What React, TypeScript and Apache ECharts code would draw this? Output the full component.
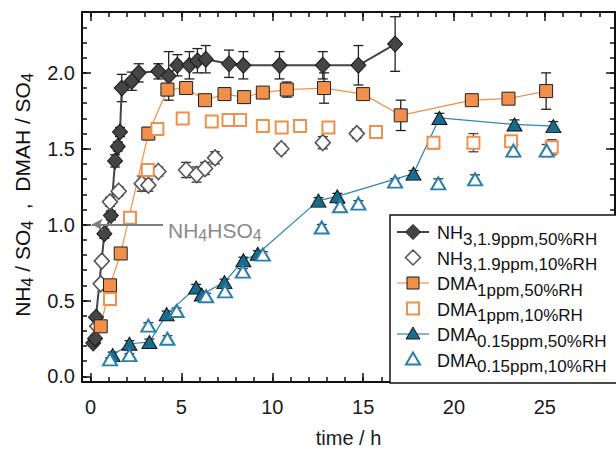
import React, { useEffect, useRef } from "react";
import * as echarts from "echarts";

const FONT = '"Liberation Sans", Arial, Helvetica, sans-serif';

// ---- data (time / h, ratio, error) ----
const nh3_50_x = [0.15, 0.25, 0.3, 0.76, 1.12, 1.35, 1.5, 1.62, 1.72, 2.27, 2.65, 3.73, 4.3, 4.78, 5.44, 5.88, 6.34, 7.62, 8.41, 10.4, 12.78, 14.74, 16.76];
const nh3_50_y = [0.22, 0.25, 0.39, 0.94, 1.06, 1.42, 1.515, 1.61, 1.9, 1.945, 2.0, 2.01, 1.98, 2.05, 2.05, 2.08, 2.09, 2.06, 2.05, 2.05, 2.05, 2.05, 2.19];
const nh3_50_e = [0.02, 0.02, 0.02, 0.03, 0.03, 0.04, 0.03, 0.03, 0.09, 0.06, 0.06, 0.05, 0.16, 0.07, 0.09, 0.08, 0.09, 0.09, 0.09, 0.09, 0.09, 0.13, 0.18];

const nh3_10_x = [0.37, 0.56, 0.62, 1.07, 1.55, 2.82, 3.18, 3.73, 5.26, 5.84, 6.3, 6.85, 10.5, 12.78, 14.65];
const nh3_10_y = [0.33, 0.61, 0.76, 1.15, 1.22, 1.27, 1.26, 1.35, 1.36, 1.33, 1.37, 1.44, 1.5, 1.54, 1.6];
const nh3_10_e = [0.02, 0.02, 0.02, 0.03, 0.03, 0.05, 0.04, 0.03, 0.05, 0.05, 0.04, 0.04, 0.03, 0.04, 0.03];

const dma1_50_x = [0.56, 1.07, 1.66, 3.18, 4.23, 5.26, 6.3, 7.37, 8.45, 9.48, 10.8, 12.85, 15.0, 17.07, 20.98, 23.0, 25.07];
const dma1_50_y = [0.33, 0.6, 0.81, 1.6, 1.89, 1.9, 1.82, 1.86, 1.84, 1.87, 1.89, 1.9, 1.86, 1.72, 1.82, 1.83, 1.88];
const dma1_50_e = [0.02, 0.02, 0.02, 0.04, 0.04, 0.04, 0.03, 0.04, 0.04, 0.03, 0.05, 0.1, 0.03, 0.1, 0.03, 0.03, 0.12];

const dma1_10_x = [1.07, 2.17, 3.15, 3.68, 5.07, 6.67, 7.59, 8.23, 9.48, 10.52, 11.53, 13.09, 15.71, 18.87, 21.07, 23.14, 25.38];
const dma1_10_y = [0.51, 1.045, 1.36, 1.63, 1.7, 1.68, 1.69, 1.69, 1.65, 1.64, 1.65, 1.64, 1.61, 1.54, 1.54, 1.55, 1.51];
const dma1_10_e = [0.02, 0.02, 0.03, 0.03, 0.03, 0.03, 0.03, 0.03, 0.03, 0.03, 0.03, 0.03, 0.03, 0.04, 0.06, 0.03, 0.05];

const dma015_50_x = [1.22, 2.14, 3.24, 4.19, 5.81, 6.12, 7.37, 8.41, 9.2, 12.54, 13.58, 17.77, 19.2, 23.33, 25.47];
const dma015_50_y = [0.14, 0.215, 0.226, 0.41, 0.586, 0.539, 0.621, 0.765, 0.808, 1.158, 1.186, 1.336, 1.703, 1.66, 1.649];
const dma015_50_e = [0.02, 0.02, 0.02, 0.02, 0.02, 0.02, 0.02, 0.02, 0.02, 0.02, 0.02, 0.02, 0.03, 0.03, 0.03];

const dma015_10_x = [1.07, 2.14, 3.18, 4.23, 4.74, 6.36, 7.4, 8.38, 9.48, 12.72, 13.73, 14.74, 16.76, 19.14, 21.16, 23.27, 25.1];
const dma015_10_y = [0.112, 0.14, 0.334, 0.248, 0.431, 0.528, 0.56, 0.69, 0.802, 0.981, 1.121, 1.138, 1.283, 1.272, 1.298, 1.488, 1.488];
const dma015_10_e = [0.01, 0.01, 0.02, 0.02, 0.02, 0.02, 0.02, 0.02, 0.02, 0.02, 0.02, 0.02, 0.02, 0.03, 0.03, 0.04, 0.04];

// reference line: NH4HSO4 (ratio = 1)
const arrowFrom = [3.99, 1.0];
const arrowTo = [0.07, 1.0];

// ticks
const xMajor = [0, 5, 10, 15, 20, 25];
const yMajor = [0, 0.5, 1, 1.5, 2];
const xMin = -0.47, xMax = 28.86;
const yMin = -0.037, yMax = 2.401;

const xMinor: number[] = [];
for (let i = 0; i <= 28; i++) xMinor.push(i);
const yMinor: number[] = [];
for (let i = 0; i <= 24; i++) yMinor.push(i / 10);

const pairs = (xs: number[], ys: number[]) => xs.map((x, i) => [x, ys[i]]);

function errSeries(xs: number[], ys: number[], es: number[], color: string) {
  return {
    type: "custom",
    xAxisIndex: 0,
    yAxisIndex: 0,
    silent: true,
    clip: false,
    z: 2,
    data: xs.map((x, i) => [x, ys[i], es[i]]),
    encode: { x: 0, y: 1 },
    renderItem: (_p: any, api: any) => {
      const x = api.value(0), y = api.value(1), e = api.value(2);
      const a = api.coord([x, y + e]);
      const b = api.coord([x, y - e]);
      const w = 5;
      const st = { stroke: color, lineWidth: 1.3 };
      return {
        type: "group",
        children: [
          { type: "line", shape: { x1: a[0], y1: a[1], x2: b[0], y2: b[1] }, style: st },
          { type: "line", shape: { x1: a[0] - w, y1: a[1], x2: a[0] + w, y2: a[1] }, style: st },
          { type: "line", shape: { x1: b[0] - w, y1: b[1], x2: b[0] + w, y2: b[1] }, style: st },
        ],
      };
    },
  };
}

const C_DARK = "#454545";
const C_OR = "#F0904A";
const C_BL = "#1A6C8E";
const C_BL_LINE = "#2E87AE";
const C_BL_OPEN = "#2B7EA7";

function axisX(position: string, ticks: number[], len: number, withLabel: boolean, withLine: boolean, extra: any = {}) {
  return {
    type: "value",
    position,
    min: xMin,
    max: xMax,
    splitLine: { show: false },
    axisLine: { show: withLine, onZero: false, lineStyle: { color: "#111", width: 2 } },
    axisTick: { show: true, inside: true, length: len, customValues: ticks, lineStyle: { color: "#111", width: 1.5 } },
    axisLabel: withLabel
      ? { show: true, customValues: xMajor, fontSize: 20, color: "#1a1a1a", fontFamily: FONT, margin: 15 }
      : { show: false },
    ...extra,
  };
}
function axisY(position: string, ticks: number[], len: number, withLabel: boolean, withLine: boolean) {
  return {
    type: "value",
    position,
    min: yMin,
    max: yMax,
    splitLine: { show: false },
    axisLine: { show: withLine, onZero: false, lineStyle: { color: "#111", width: 2 } },
    axisTick: { show: true, inside: true, length: len, customValues: ticks, lineStyle: { color: "#111", width: 1.5 } },
    axisLabel: withLabel
      ? {
          show: true,
          customValues: yMajor,
          fontSize: 20,
          color: "#1a1a1a",
          fontFamily: FONT,
          margin: 7,
          formatter: (v: number) => v.toFixed(1),
        }
      : { show: false },
  };
}

const sub = (main: string, s: string) => `{m|${main}}{s|${s}}`;
const legendRich = {
  m: { fontSize: 18, fontFamily: FONT, fill: "#111", color: "#111" },
  s: { fontSize: 17, fontFamily: FONT, fill: "#111", color: "#111", padding: [12, 0, 0, 0] },
};

const legendRows = [
  { text: sub("NH", "3,1.9ppm,50%RH"), sym: "diamond", filled: true, color: C_DARK, line: C_DARK, lw: 2 },
  { text: sub("NH", "3,1.9ppm,10%RH"), sym: "diamond", filled: false, color: "#555", line: null, lw: 0 },
  { text: sub("DMA", "1ppm,50%RH"), sym: "square", filled: true, color: C_OR, line: C_OR, lw: 1.2 },
  { text: sub("DMA", "1ppm,10%RH"), sym: "square", filled: false, color: C_OR, line: null, lw: 0 },
  { text: sub("DMA", "0.15ppm,50%RH"), sym: "triangle", filled: true, color: C_BL, line: C_BL_LINE, lw: 1.2 },
  { text: sub("DMA", "0.15ppm,10%RH"), sym: "triangle", filled: false, color: C_BL_OPEN, line: null, lw: 0 },
];

function legendGraphics() {
  const out: any[] = [];
  const bx = 390, by = 215, bw = 228, bh = 168;
  out.push({ type: "rect", shape: { x: bx, y: by, width: bw, height: bh }, style: { fill: "#fff", stroke: "#111", lineWidth: 1.5 }, z: 10 });
  const cx = 413;
  legendRows.forEach((r, i) => {
    const y = 232 + i * 25.5;
    if (r.line) {
      out.push({ type: "line", shape: { x1: 397, y1: y, x2: 429, y2: y }, style: { stroke: r.line, lineWidth: r.lw }, z: 11 });
    }
    const style = r.filled
      ? { fill: r.color, stroke: "#1a1a1a", lineWidth: 1 }
      : { fill: "#fff", stroke: r.color, lineWidth: r.sym === "diamond" ? 1.5 : 2 };
    if (r.sym === "diamond") {
      out.push({ type: "polygon", shape: { points: [[cx, y - 7.5], [cx + 7.5, y], [cx, y + 7.5], [cx - 7.5, y]] }, style, z: 12 });
    } else if (r.sym === "square") {
      out.push({ type: "rect", shape: { x: cx - 6, y: y - 6, width: 12, height: 12 }, style, z: 12 });
    } else {
      out.push({ type: "polygon", shape: { points: [[cx, y - 7], [cx + 7, y + 5], [cx - 7, y + 5]] }, style, z: 12 });
    }
    out.push({
      type: "text",
      x: 437,
      y: y + 1,
      z: 12,
      style: { text: r.text, rich: legendRich, align: "left", verticalAlign: "middle", fontFamily: FONT },
    });
  });
  return out;
}

const titleRich = {
  m: { fontSize: 21, fontFamily: FONT, fill: "#111", color: "#111" },
  s: { fontSize: 16, fontFamily: FONT, fill: "#111", color: "#111", padding: [10, 0, 0, 0] },
};
const annRich = {
  m: { fontSize: 21, fontFamily: FONT, fill: "#8a8a8a", color: "#8a8a8a" },
  s: { fontSize: 16, fontFamily: FONT, fill: "#8a8a8a", color: "#8a8a8a", padding: [10, 0, 0, 0] },
};

export default function App() {
  const ref = useRef<HTMLDivElement>(null);
  useEffect(() => {
    const chart = echarts.init(ref.current!, null, { renderer: "svg" });
    const option: any = {
      animation: false,
      backgroundColor: "#fff",
      grid: { left: 82, right: 1, top: 12, bottom: 64, containLabel: false },
      xAxis: [
        axisX("bottom", xMinor, 5, true, true, {
          name: "time / h",
          nameLocation: "middle",
          nameGap: 46,
          nameTextStyle: { fontSize: 20, color: "#1a1a1a", fontFamily: FONT },
        }),
        axisX("bottom", xMajor, 9, false, false),
        axisX("top", xMinor, 5, false, true),
        axisX("top", xMajor, 9, false, false),
      ],
      yAxis: [
        axisY("left", yMinor, 5, true, true),
        axisY("left", yMajor, 9, false, false),
        axisY("right", yMinor, 5, false, true),
        axisY("right", yMajor, 9, false, false),
      ],
      series: [
        errSeries(nh3_50_x, nh3_50_y, nh3_50_e, "#222"),
        errSeries(nh3_10_x, nh3_10_y, nh3_10_e, "#333"),
        errSeries(dma1_50_x, dma1_50_y, dma1_50_e, "#222"),
        errSeries(dma1_10_x, dma1_10_y, dma1_10_e, "#444"),
        errSeries(dma015_50_x, dma015_50_y, dma015_50_e, "#222"),
        errSeries(dma015_10_x, dma015_10_y, dma015_10_e, "#333"),
        {
          name: "NH3 1.9ppm 50%RH",
          type: "line",
          z: 3,
          data: pairs(nh3_50_x, nh3_50_y),
          symbol: "diamond",
          symbolSize: [15, 16],
          lineStyle: { color: C_DARK, width: 2 },
          itemStyle: { color: C_DARK, borderColor: "#1a1a1a", borderWidth: 1 },
          clip: false,
        },
        {
          name: "NH3 1.9ppm 10%RH",
          type: "scatter",
          z: 3,
          data: pairs(nh3_10_x, nh3_10_y),
          symbol: "diamond",
          symbolSize: [15, 16],
          itemStyle: { color: "#fff", borderColor: "#555", borderWidth: 1.6, opacity: 1 },
          clip: false,
          markLine: {
            silent: true,
            symbol: ["none", "arrow"],
            symbolSize: [9, 11],
            label: { show: false },
            lineStyle: { color: "#7f7f7f", width: 2, type: "solid" },
            data: [[{ coord: arrowFrom }, { coord: arrowTo }]],
          },
        },
        {
          name: "DMA 1ppm 50%RH",
          type: "line",
          z: 3,
          data: pairs(dma1_50_x, dma1_50_y),
          symbol: "rect",
          symbolSize: 13,
          lineStyle: { color: C_OR, width: 1.2 },
          itemStyle: { color: C_OR, borderColor: "#222", borderWidth: 1 },
          clip: false,
        },
        {
          name: "DMA 1ppm 10%RH",
          type: "scatter",
          z: 3,
          data: pairs(dma1_10_x, dma1_10_y),
          symbol: "rect",
          symbolSize: 12,
          itemStyle: { color: "#fff", borderColor: C_OR, borderWidth: 2, opacity: 1 },
          clip: false,
        },
        {
          name: "DMA 0.15ppm 50%RH",
          type: "line",
          z: 3,
          data: pairs(dma015_50_x, dma015_50_y),
          symbol: "triangle",
          symbolSize: [15, 13],
          lineStyle: { color: C_BL_LINE, width: 1.2 },
          itemStyle: { color: C_BL, borderColor: "#111", borderWidth: 1 },
          clip: false,
        },
        {
          name: "DMA 0.15ppm 10%RH",
          type: "scatter",
          z: 3,
          data: pairs(dma015_10_x, dma015_10_y),
          symbol: "triangle",
          symbolSize: [14, 12],
          itemStyle: { color: "#fff", borderColor: C_BL_OPEN, borderWidth: 2, opacity: 1 },
          clip: false,
        },
      ],
      graphic: [
        {
          type: "text",
          x: 22,
          y: 195,
          rotation: Math.PI / 2,
          style: {
            text: `${sub("NH", "4")}{m| / SO}{s|4}{m|  ,  DMAH / SO}{s|4}`,
            rich: titleRich,
            align: "center",
            verticalAlign: "middle",
          },
        },
        {
          type: "text",
          x: 168,
          y: 230,
          z: 5,
          style: { text: `${sub("NH", "4")}{m|HSO}{s|4}`, rich: annRich, align: "left", verticalAlign: "middle" },
        },
        ...legendGraphics(),
      ],
    };
    chart.setOption(option);
    return () => chart.dispose();
  }, []);
  return <div ref={ref} style={{ width: 616, height: 453, position: "absolute", left: 0, top: 0 }} />;
}
